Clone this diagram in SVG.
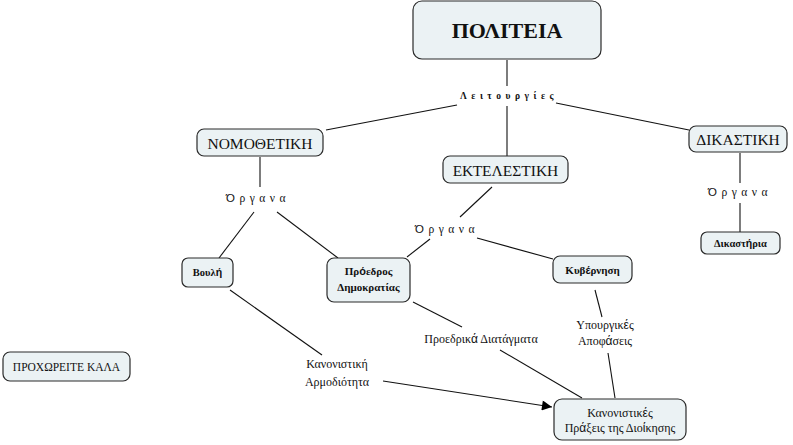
<svg xmlns="http://www.w3.org/2000/svg" width="793" height="445" viewBox="0 0 793 445">
<style>
.box{fill:#ebf2f4;stroke:#2a2a2a;stroke-width:1.2}
.t{font-family:"Liberation Serif","DejaVu Serif",serif;fill:#111;text-anchor:middle}
.b{font-weight:bold}
.s{font-family:"Liberation Sans","DejaVu Sans",sans-serif}
.lbl{font-size:12px}
.sp{letter-spacing:4.5px}
.cn line{stroke:#111;stroke-width:1.1}
</style>
<defs>
<marker id="ah" viewBox="0 0 10 10" refX="10" refY="5" markerWidth="12" markerHeight="10" markerUnits="userSpaceOnUse" orient="auto">
<path d="M0,0 L10,5 L0,10 z" fill="#000"/>
</marker>
</defs>
<rect width="793" height="445" fill="#fff"/>
<g class="cn" id="connectors">
<line x1="507" y1="60" x2="507" y2="86"/>
<line x1="507" y1="106" x2="507" y2="156"/>
<line x1="457" y1="105" x2="326" y2="130"/>
<line x1="556" y1="103" x2="689" y2="130"/>
<line x1="260" y1="157" x2="260" y2="187"/>
<line x1="254" y1="212" x2="219" y2="258"/>
<line x1="277" y1="212" x2="338" y2="258"/>
<line x1="492" y1="187" x2="460" y2="217"/>
<line x1="430" y1="239" x2="407" y2="257"/>
<line x1="477" y1="238" x2="553" y2="259"/>
<line x1="740" y1="153" x2="740" y2="183"/>
<line x1="740" y1="203" x2="740" y2="232"/>
<line x1="230" y1="290" x2="322" y2="355"/>
<line x1="383" y1="381" x2="552" y2="407" marker-end="url(#ah)"/>
<line x1="413" y1="302" x2="462" y2="327"/>
<line x1="500" y1="350" x2="582" y2="398"/>
<line x1="595" y1="290" x2="602" y2="317"/>
<line x1="608" y1="353" x2="615" y2="398"/>
</g>
<g id="politeia"><rect class="box" x="413" y="1" width="188" height="58" rx="9"/><text class="t b" x="507" y="38" font-size="22">ΠΟΛΙΤΕΙΑ</text></g>
<g id="leitourgies"><text class="t b sp" x="509" y="99" font-size="9.5">Λειτουργίες</text></g>
<g id="nomothetiki"><rect class="box" x="197" y="129" width="126" height="27" rx="7"/><text class="t" x="260" y="148.5" font-size="15.5">ΝΟΜΟΘΕΤΙΚΗ</text></g>
<g id="ektelestiki"><rect class="box" x="443" y="156" width="125" height="27" rx="7"/><text class="t" x="505.5" y="175.5" font-size="15.5">ΕΚΤΕΛΕΣΤΙΚΗ</text></g>
<g id="dikastiki"><rect class="box" x="689" y="126" width="98" height="26" rx="7"/><text class="t" x="738" y="145" font-size="15.5">ΔΙΚΑΣΤΙΚΗ</text></g>
<g id="organa1"><text class="t sp" x="258" y="202" font-size="11.5" letter-spacing="5"><tspan class="s">Ό</tspan>ργανα</text></g>
<g id="organa2"><text class="t sp" x="447" y="233" font-size="11.5" letter-spacing="5"><tspan class="s">Ό</tspan>ργανα</text></g>
<g id="organa3"><text class="t sp" x="740" y="196" font-size="11.5" letter-spacing="5"><tspan class="s">Ό</tspan>ργανα</text></g>
<g id="vouli"><rect class="box" x="182" y="258" width="51" height="29" rx="6"/><text class="t b" x="207.5" y="276" font-size="10.5">Βουλ<tspan class="s">ή</tspan></text></g>
<g id="proedros"><rect class="box" x="327" y="258" width="83" height="44" rx="7"/><text class="t b" x="368.5" y="275" font-size="11">Πρ<tspan class="s">ό</tspan>εδρος</text><text class="t b" x="368.5" y="291" font-size="11">Δημοκρατίας</text></g>
<g id="kyvernisi"><rect class="box" x="553" y="256" width="79" height="27" rx="7"/><text class="t b" x="592.5" y="274" font-size="11">Κυβ<tspan class="s">έ</tspan>ρνηση</text></g>
<g id="dikastiria"><rect class="box" x="701" y="232" width="79" height="22" rx="6"/><text class="t b" x="740.5" y="247" font-size="10.5">Δικαστ<tspan class="s">ή</tspan>ρια</text></g>
<g id="kanonistiki"><text class="t lbl" x="337" y="368">Κανονιστική</text><text class="t lbl" x="337" y="386">Αρμοδιότητα</text></g>
<g id="proedrika"><text class="t lbl" x="481" y="343">Προεδρικ<tspan class="s">ά</tspan> Διατάγματα</text></g>
<g id="ypourgikes"><text class="t lbl" x="605" y="329">Υπουργικ<tspan class="s">έ</tspan>ς</text><text class="t lbl" x="605" y="345">Αποφ<tspan class="s">ά</tspan>σεις</text></g>
<g id="praxeis"><rect class="box" x="554" y="399" width="132" height="41" rx="8"/><text class="t lbl" x="620" y="417">Κανονιστικ<tspan class="s">έ</tspan>ς</text><text class="t lbl" x="620" y="432">Πρ<tspan class="s">ά</tspan>ξεις της Διο<tspan class="s">ί</tspan>κησης</text></g>
<g id="proxoreite"><rect class="box" x="3" y="352" width="127" height="29" rx="7"/><text class="t" x="66.5" y="370.5" font-size="11.5">ΠΡΟΧΩΡΕΙΤΕ ΚΑΛΑ</text></g>
</svg>
